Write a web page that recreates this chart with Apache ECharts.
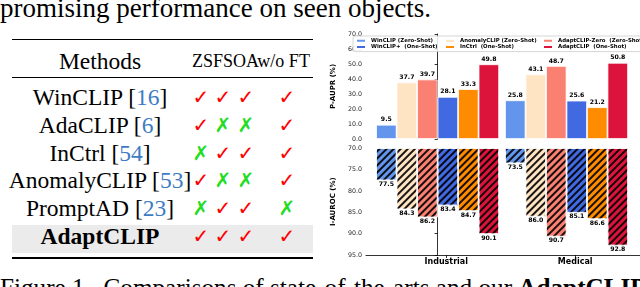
<!DOCTYPE html>
<html><head><meta charset="utf-8">
<script src="https://cdn.jsdelivr.net/npm/echarts@6/dist/echarts.min.js"></script>
<style>
html,body{margin:0;padding:0;width:640px;height:287px;overflow:hidden;background:#fff;}
#chart{position:absolute;left:322px;top:0;width:318px;height:287px;}
.t{position:absolute;font-family:"Liberation Serif","DejaVu Serif",serif;color:#000;white-space:pre;}
.rule{position:absolute;left:12px;width:301px;background:#000;}
.band{position:absolute;left:12px;width:301px;background:#ebebeb;}
.mk{position:absolute;width:24px;text-align:center;font-family:"DejaVu Sans",sans-serif;font-size:20px;font-weight:bold;}
.ref{color:#3d7cc4;}
</style></head>
<body>
<div class="t" style="left:0;top:-4.6px;font-size:27px;line-height:27px;">promising performance on seen objects.</div>
<div class="rule" style="top:38.8px;height:1.5px;"></div>
<div class="rule" style="top:76.8px;height:1px;"></div>
<div class="band" style="top:225px;height:28px;"></div>
<div class="rule" style="top:257px;height:1.6px;"></div>
<div class="t" style="left:0;width:200px;text-align:center;top:47px;height:28px;line-height:28px;font-size:23.5px;">Methods</div>
<div class="t" style="left:192px;top:49px;height:24px;line-height:24px;font-size:18px;">ZSFSOAw/o FT</div>
<div id="table"></div>
<div class="t" style="left:0;top:274.6px;font-size:25.2px;line-height:26px;">Figure 1.  Comparisons of state-of-the-arts and our <b>AdaptCLIP</b> on</div>
<div id="chart"></div>
<script>
// ---------- table data ----------
const methodNames = ['WinCLIP', 'AdaCLIP', 'InCtrl', 'AnomalyCLIP', 'PromptAD', 'AdaptCLIP'];
const methodRefs = ['16', '6', '54', '53', '23', ''];
const zsMarks = [1, 1, 0, 1, 0, 1];
const fsMarks = [1, 0, 1, 0, 1, 1];
const oaMarks = [1, 0, 1, 0, 1, 1];
const woftMarks = [1, 1, 1, 1, 0, 1];

// ---------- chart data ----------
const categories = ['Industrial', 'Medical'];
const seriesNames = ['WinCLIP (Zero-Shot)', 'AnomalyCLIP (Zero-Shot)', 'AdaptCLIP-Zero  (Zero-Shot)',
                     'WinCLIP+  (One-Shot)', 'InCtrl  (One-Shot)', 'AdaptCLIP  (One-Shot)'];
const seriesColors = ['#6495ED', '#FFE4C4', '#FA8072', '#4169E1', '#FF8C00', '#DC143C'];
const pauprWinCLIP = [9.5, 25.8];
const pauprAnomalyCLIP = [37.7, 43.1];
const pauprAdaptZero = [39.7, 48.7];
const pauprWinCLIPPlus = [28.1, 25.6];
const pauprInCtrl = [33.3, 21.2];
const pauprAdaptCLIP = [49.8, 50.8];
const iaurocWinCLIP = [77.5, 73.5];
const iaurocAnomalyCLIP = [84.3, 86.0];
const iaurocAdaptZero = [86.2, 90.7];
const iaurocWinCLIPPlus = [83.4, 85.1];
const iaurocInCtrl = [84.7, 86.6];
const iaurocAdaptCLIP = [90.1, 92.8];
const pauprTicks = [0, 10, 20, 30, 40, 50, 60, 70];
const iaurocTicks = [70, 75, 80, 85, 90, 95];

// ---------- build table ----------
(function () {
  const host = document.getElementById('table');
  const colX = [189, 211, 234, 275];
  const markCols = [zsMarks, fsMarks, oaMarks, woftMarks];
  methodNames.forEach((m, i) => {
    const cy = 97 + i * 27.8;
    const d = document.createElement('div');
    d.className = 't';
    d.style.cssText = `left:0;width:200px;text-align:center;top:${cy - 14}px;height:28px;line-height:28px;font-size:23.5px;`;
    if (i === methodNames.length - 1) d.innerHTML = '<b>' + m + '</b>';
    else d.innerHTML = m + ' [<span class="ref">' + methodRefs[i] + '</span>]';
    host.appendChild(d);
    markCols.forEach((col, j) => {
      const s = document.createElement('div');
      s.className = 'mk';
      s.style.left = colX[j] + 'px';
      s.style.top = (cy - 12) + 'px';
      s.style.lineHeight = '24px';
      s.style.color = col[i] ? '#ff0000' : '#22dd22';
      s.textContent = col[i] ? '\u2713' : '\u2717';
      host.appendChild(s);
    });
  });
})();

// ---------- chart ----------
const pauprData = [pauprWinCLIP, pauprAnomalyCLIP, pauprAdaptZero, pauprWinCLIPPlus, pauprInCtrl, pauprAdaptCLIP];
const iaurocData = [iaurocWinCLIP, iaurocAnomalyCLIP, iaurocAdaptZero, iaurocWinCLIPPlus, iaurocInCtrl, iaurocAdaptCLIP];
const FONT = 'DejaVu Sans';
const X_MIN = -0.556, X_MAX = 1.570, TICK_SHIFT = 0.067;

const chart = echarts.init(document.getElementById('chart'), null, { renderer: 'canvas' });

const series = [];
seriesNames.forEach((name, k) => {
  series.push({
    name: name, type: 'bar', xAxisIndex: 0, yAxisIndex: 0,
    barWidth: 20.5, barGap: '0%',
    itemStyle: { color: seriesColors[k], borderColor: '#fff', borderWidth: 0.8 },
    label: { show: true, position: 'top', distance: 2, fontFamily: FONT, fontWeight: 'bold', fontSize: 6.2, color: '#000',
             formatter: p => p.value[1].toFixed(1) },
    data: categories.map((c, i) => [i, pauprData[k][i]])
  });
});
seriesNames.forEach((name, k) => {
  series.push({
    name: name, type: 'bar', xAxisIndex: 1, yAxisIndex: 1,
    barWidth: 20.5, barGap: '0%',
    itemStyle: { color: seriesColors[k], borderColor: '#fff', borderWidth: 0.8,
      decal: { symbol: 'rect', symbolSize: 1, color: 'rgba(0,0,0,0.9)', dashArrayX: [1, 0], dashArrayY: [1.4, 2.8], rotation: -Math.PI / 4 } },
    label: { show: true, position: 'bottom', distance: 1, fontFamily: FONT, fontWeight: 'bold', fontSize: 6.2, color: '#000',
             formatter: p => p.value[1].toFixed(1) },
    data: categories.map((c, i) => [i, iaurocData[k][i]])
  });
});

const yLabel = { fontFamily: FONT, fontSize: 6.3, color: '#222', margin: 4, formatter: v => v.toFixed(1) };
const axisLine = { show: true, lineStyle: { color: '#000', width: 0.8 } };
const axisTick = { show: true, length: 3, lineStyle: { color: '#000', width: 0.8 } };
const LF = 5.4;
const richCol = w => ({ width: w, fontFamily: FONT, fontWeight: 'bold', fontSize: LF, lineHeight: 6.3, color: '#000' });

const option = {
  animation: false,
  backgroundColor: 'transparent',
  textStyle: { fontFamily: FONT },
  legend: {
    left: 31, top: 36, width: 300,
    orient: 'horizontal', itemGap: 0, itemWidth: 10, itemHeight: 4,
    padding: [1.5, 3, 1.5, 2],
    borderColor: '#cccccc', borderWidth: 0.8, borderRadius: 2,
    backgroundColor: 'rgba(255,255,255,0.85)',
    data: seriesNames,
    formatter: name => '{c' + (seriesNames.indexOf(name) % 3) + '|' + name + '}',
    textStyle: {
      fontFamily: FONT, fontWeight: 'bold', fontSize: LF, lineHeight: 6.3, color: '#000',
      rich: { c0: richCol(73), c1: richCol(82), c2: richCol(84) }
    }
  },
  grid: [
    { left: 31, right: 0, top: 34, height: 105 },
    { left: 31, right: 0, top: 148.5, height: 106.5 }
  ],
  xAxis: [
    { type: 'value', gridIndex: 0, min: X_MIN, max: X_MAX, show: false },
    { type: 'value', gridIndex: 1, min: X_MIN, max: X_MAX,
      axisLine: axisLine, splitLine: { show: false },
      axisTick: Object.assign({}, axisTick, { customValues: categories.map((c, i) => i + TICK_SHIFT) }),
      axisLabel: { customValues: categories.map((c, i) => i + TICK_SHIFT), fontFamily: FONT, fontWeight: 'bold',
                   fontSize: 8, color: '#000', margin: 3, formatter: v => categories[Math.round(v)] } }
  ],
  yAxis: [
    { type: 'value', gridIndex: 0, min: pauprTicks[0], max: pauprTicks[pauprTicks.length - 1], interval: 10,
      axisLine: axisLine, axisTick: axisTick, splitLine: { show: false }, axisLabel: yLabel,
      name: 'P-AUPR (%)', nameLocation: 'middle', nameGap: 20,
      nameTextStyle: { fontFamily: FONT, fontWeight: 'bold', fontSize: 7, color: '#000' } },
    { type: 'value', gridIndex: 1, inverse: true, min: iaurocTicks[0], max: iaurocTicks[iaurocTicks.length - 1], interval: 5,
      axisLine: axisLine, axisTick: axisTick, splitLine: { show: false }, axisLabel: yLabel,
      name: 'I-AUROC (%)', nameLocation: 'middle', nameGap: 20,
      nameTextStyle: { fontFamily: FONT, fontWeight: 'bold', fontSize: 7, color: '#000' } }
  ],
  series: series
};
chart.setOption(option);
</script>
</body></html>
